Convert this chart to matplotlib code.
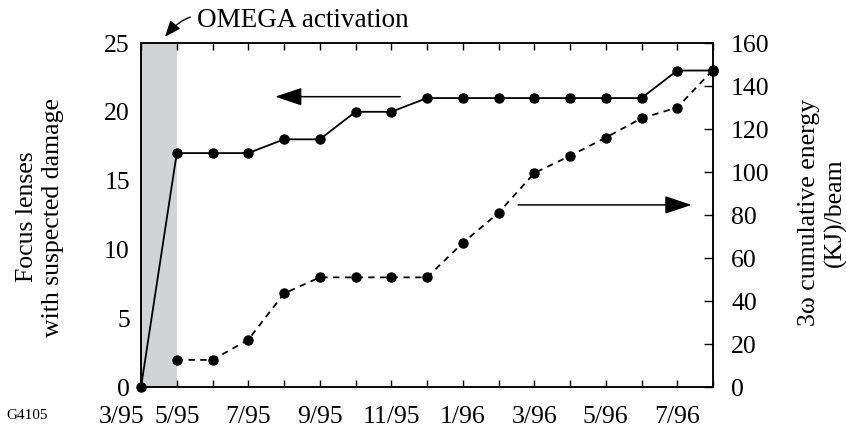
import numpy as np
import matplotlib.pyplot as plt
from matplotlib.transforms import ScaledTranslation

plt.rcParams['font.family'] = ['Liberation Serif', 'DejaVu Serif']
plt.rcParams['font.size'] = 18.5

# month axis (the first step 3/95 -> 5/95 is drawn as one interval in the original)
months = ['3/95', '5/95', '6/95', '7/95', '8/95', '9/95', '10/95', '11/95', '12/95',
          '1/96', '2/96', '3/96', '4/96', '5/96', '6/96', '7/96', '8/96']
shownMonths = ['3/95', '5/95', '7/95', '9/95', '11/95', '1/96', '3/96', '5/96', '7/96']

# focus lenses with suspected damage (left axis)
lenses = [0, 17, 17, 17, 18, 18, 20, 20, 21, 21, 21, 21, 21, 21, 21, 23, 23]

# 3w cumulative energy per beam, kJ (right axis), starts at 5/95
energyMonths = months[1:]
energy = [12.6, 12.6, 22, 43.5, 51, 51, 51, 51, 67, 81, 99.5, 107.5, 116, 125, 130, 147.5]

xPos = {m: i for i, m in enumerate(months)}
x = np.array([xPos[m] for m in months])
xE = np.array([xPos[m] for m in energyMonths])

fig = plt.figure(figsize=(8.46, 4.43), dpi=100)
ax = fig.add_axes([0.1667, 0.1264, 0.6761, 0.7765])
ax2 = ax.twinx()

ax.axvspan(xPos['3/95'], xPos['5/95'], color='#d1d3d4', lw=0, zorder=0)

ax.plot(x, lenses, '-', color='black', lw=1.3, marker='o', ms=6.5, clip_on=False, zorder=5)
ax2.plot(xE, energy, color='black', lw=1.3, ls=(0, (3.5, 3)), marker='o', ms=6.5,
         clip_on=False, zorder=5)

ax.set_xlim(0, len(months) - 1)
ax.set_ylim(0, 25)
ax2.set_ylim(0, 160)
ax.set_yticks(range(0, 26, 5))
ax2.set_yticks(range(0, 161, 20))

ax.set_xticks(x)
ax.set_xticklabels([m if m in shownMonths else '' for m in months])
ax.tick_params(axis='x', direction='in', length=5, width=1, top=True, pad=14)
ax.tick_params(axis='y', length=0, pad=8)
ax2.tick_params(axis='y', direction='in', length=6.5, width=1, pad=13)

# first label sits left of its point so it clears 5/95
firstLab = ax.get_xticklabels()[0]
firstLab.set_transform(firstLab.get_transform() + ScaledTranslation(-0.19, 0, fig.dpi_scale_trans))

for a in (ax, ax2):
    for s in a.spines.values():
        s.set_linewidth(1.1)

# direction arrows
ax.annotate('', xy=(3.75, 21.1), xytext=(7.25, 21.1),
            arrowprops=dict(arrowstyle='-|>,head_length=0.9,head_width=0.3',
                            color='black', lw=1.1, shrinkA=0, shrinkB=0))
ax2.annotate('', xy=(15.4, 84.7), xytext=(10.55, 84.7),
             arrowprops=dict(arrowstyle='-|>,head_length=0.9,head_width=0.3',
                             color='black', lw=1.1, shrinkA=0, shrinkB=0))

# OMEGA activation note
ax.annotate('OMEGA activation', xy=(0.67, 25.45), xytext=(1.57, 26.6),
            ha='left', va='center', annotation_clip=False, fontsize=19.5,
            arrowprops=dict(arrowstyle='-|>,head_length=0.5,head_width=0.2',
                            color='black', lw=1.0, relpos=(0, 0.7),
                            shrinkA=3, shrinkB=0,
                            connectionstyle='angle3,angleA=0,angleB=50'))

fig.text(0.047, 0.51, 'Focus lenses\nwith suspected damage', rotation=90,
         ha='center', va='center', linespacing=1.25)
fig.text(0.972, 0.52, '3\u03c9 cumulative energy\n(KJ)/beam', rotation=90,
         ha='center', va='center', linespacing=1.25)
fig.text(0.008, 0.063, 'G4105', fontsize=11, ha='left', va='center')

fig.savefig('out.png', dpi=100)
plt.close(fig)
